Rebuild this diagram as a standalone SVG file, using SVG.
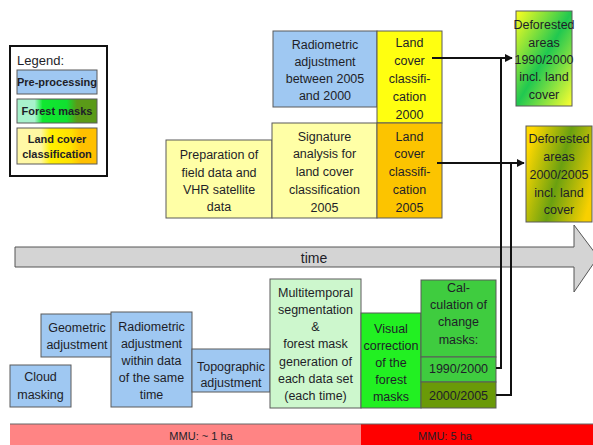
<svg xmlns="http://www.w3.org/2000/svg" width="593" height="445" viewBox="0 0 593 445">
  <defs>
    <style>
      text { font-family: "Liberation Sans", Arial, sans-serif; fill: #1e1e28; }
      .t { font-size: 12.5px; text-anchor: middle; }
      .lg { font-size: 11px; font-weight: bold; text-anchor: middle; }
      .box { stroke: #5a5a5a; stroke-width: 1; }
      .pre { fill: #9fc8f2; }
      .ly { fill: #ffffa6; }
      .lc0 { fill: #ffff10; }
      .lc5 { fill: #fcc400; }
      .mt { fill: #cdf7cd; }
      .vc { fill: #22f022; }
      .cm { fill: #3fcc3f; }
      .c05 { fill: #6a9a08; }
      .wire { fill: none; stroke: #111; stroke-width: 2; }
    </style>
    <linearGradient id="gDef1" x1="0" y1="0" x2="1" y2="1">
      <stop offset="0" stop-color="#ffff20"/>
      <stop offset="0.5" stop-color="#20c850"/>
      <stop offset="1" stop-color="#ffff30"/>
    </linearGradient>
    <linearGradient id="gDef2" x1="0" y1="0.3" x2="1" y2="0.7">
      <stop offset="0" stop-color="#ffd800"/>
      <stop offset="0.5" stop-color="#6aa010"/>
      <stop offset="1" stop-color="#f8d000"/>
    </linearGradient>
    <linearGradient id="gForest" x1="0" y1="0" x2="1" y2="0">
      <stop offset="0" stop-color="#a8f2cc"/>
      <stop offset="0.22" stop-color="#a8f2cc"/>
      <stop offset="0.32" stop-color="#10e830"/>
      <stop offset="0.62" stop-color="#10e030"/>
      <stop offset="0.75" stop-color="#5a9a18"/>
      <stop offset="1" stop-color="#5a9a18"/>
    </linearGradient>
    <linearGradient id="gLand" x1="0" y1="0" x2="1" y2="0">
      <stop offset="0" stop-color="#fff8a8"/>
      <stop offset="0.3" stop-color="#fff8a0"/>
      <stop offset="0.42" stop-color="#fff000"/>
      <stop offset="0.68" stop-color="#ffe000"/>
      <stop offset="0.8" stop-color="#ffc000"/>
      <stop offset="1" stop-color="#ffc000"/>
    </linearGradient>
    <marker id="arr" viewBox="0 0 10 10" refX="9" refY="5" markerWidth="4" markerHeight="4" orient="auto" markerUnits="strokeWidth">
      <path d="M0,0 L10,5 L0,10 z" fill="#111"/>
    </marker>
  </defs>

  <rect width="593" height="445" fill="#ffffff"/>

  <!-- legend -->
  <g id="legend">
    <rect x="10" y="46" width="97" height="130" fill="#ffffff" stroke="#111" stroke-width="2"/>
    <text x="17" y="65" style="font-size:13px">Legend:</text>
    <rect class="box pre" x="17" y="70" width="80" height="24"/>
    <text class="lg" x="57" y="86">Pre-processing</text>
    <rect class="box" x="17" y="99" width="80" height="24" fill="url(#gForest)"/>
    <text class="lg" x="57" y="115">Forest masks</text>
    <rect class="box" x="17" y="128" width="80" height="36" fill="url(#gLand)"/>
    <text class="lg" x="57" y="143">Land cover</text>
    <text class="lg" x="57" y="158">classification</text>
  </g>

  <!-- time axis -->
  <g id="time">
    <path d="M15,247 H574 V225 L598,257 L574,292 V267 H15 Z" fill="#d4d4d4" stroke="#555" stroke-width="1"/>
    <text x="314" y="263" style="font-size:14px; text-anchor:middle">time</text>
  </g>

  <!-- upper row: classification steps -->
  <g id="radiometric2005">
    <rect class="box pre" x="273" y="31" width="104" height="76"/>
    <text class="t" x="325" y="49">Radiometric</text>
    <text class="t" x="325" y="66">adjustment</text>
    <text class="t" x="325" y="83">between 2005</text>
    <text class="t" x="325" y="100">and 2000</text>
  </g>
  <g id="landcover2000">
    <rect class="box lc0" x="377" y="31" width="65" height="92"/>
    <text class="t" x="409.5" y="47">Land</text>
    <text class="t" x="409.5" y="65">cover</text>
    <text class="t" x="409.5" y="83">classifi-</text>
    <text class="t" x="409.5" y="101">cation</text>
    <text class="t" x="409.5" y="119">2000</text>
  </g>
  <g id="preparation">
    <rect class="box ly" x="166" y="140" width="106" height="78"/>
    <text class="t" x="219" y="159">Preparation of</text>
    <text class="t" x="219" y="177">field data and</text>
    <text class="t" x="219" y="194">VHR satellite</text>
    <text class="t" x="219" y="211">data</text>
  </g>
  <g id="signature">
    <rect class="box ly" x="272" y="123" width="105" height="95"/>
    <text class="t" x="324.5" y="141">Signature</text>
    <text class="t" x="324.5" y="158">analysis for</text>
    <text class="t" x="324.5" y="176">land cover</text>
    <text class="t" x="324.5" y="194">classification</text>
    <text class="t" x="324.5" y="212">2005</text>
  </g>
  <g id="landcover2005">
    <rect class="box lc5" x="377" y="123" width="65" height="95"/>
    <text class="t" x="409.5" y="141">Land</text>
    <text class="t" x="409.5" y="158">cover</text>
    <text class="t" x="409.5" y="176">classifi-</text>
    <text class="t" x="409.5" y="194">cation</text>
    <text class="t" x="409.5" y="212">2005</text>
  </g>

  <!-- results -->
  <g id="deforested1990">
    <rect class="box" x="516" y="11" width="56" height="95" fill="url(#gDef1)"/>
    <text class="t" x="544" y="29">Deforested</text>
    <text class="t" x="544" y="47">areas</text>
    <text class="t" x="544" y="64">1990/2000</text>
    <text class="t" x="544" y="81">incl. land</text>
    <text class="t" x="544" y="99">cover</text>
  </g>
  <g id="deforested2000">
    <rect class="box" x="526" y="126" width="66" height="96" fill="url(#gDef2)"/>
    <text class="t" x="559" y="143">Deforested</text>
    <text class="t" x="559" y="161">areas</text>
    <text class="t" x="559" y="179">2000/2005</text>
    <text class="t" x="559" y="197">incl. land</text>
    <text class="t" x="559" y="214">cover</text>
  </g>

  <!-- lower row: pre-processing and forest masks -->
  <g id="cloud">
    <rect class="box pre" x="10" y="365" width="61" height="42"/>
    <text class="t" x="40.5" y="381">Cloud</text>
    <text class="t" x="40.5" y="399">masking</text>
  </g>
  <g id="geometric">
    <rect class="box pre" x="41" y="314" width="71" height="43"/>
    <text class="t" x="77" y="332">Geometric</text>
    <text class="t" x="77" y="349">adjustment</text>
  </g>
  <g id="radiometricSame">
    <rect class="box pre" x="111" y="312" width="81" height="95"/>
    <text class="t" x="151.5" y="331">Radiometric</text>
    <text class="t" x="151.5" y="348">adjustment</text>
    <text class="t" x="151.5" y="365">within data</text>
    <text class="t" x="151.5" y="382">of the same</text>
    <text class="t" x="151.5" y="399">time</text>
  </g>
  <g id="topographic">
    <rect class="box pre" x="192" y="349" width="78" height="43"/>
    <text class="t" x="231" y="371">Topographic</text>
    <text class="t" x="231" y="387">adjustment</text>
  </g>
  <g id="multitemporal">
    <rect class="box mt" x="270" y="279" width="91" height="129"/>
    <text class="t" x="315.5" y="297">Multitemporal</text>
    <text class="t" x="315.5" y="314">segmentation</text>
    <text class="t" x="315.5" y="331">&amp;</text>
    <text class="t" x="315.5" y="348">forest mask</text>
    <text class="t" x="315.5" y="366">generation of</text>
    <text class="t" x="315.5" y="383">each data set</text>
    <text class="t" x="315.5" y="400">(each time)</text>
  </g>
  <g id="visual">
    <rect class="box vc" x="361" y="313" width="60" height="95"/>
    <text class="t" x="391" y="333">Visual</text>
    <text class="t" x="391" y="350">correction</text>
    <text class="t" x="391" y="367">of the</text>
    <text class="t" x="391" y="384">forest</text>
    <text class="t" x="391" y="401">masks</text>
  </g>
  <g id="changeMasks">
    <rect class="box cm" x="421" y="280" width="75" height="77"/>
    <text class="t" x="458.5" y="292">Cal-</text>
    <text class="t" x="458.5" y="309">culation of</text>
    <text class="t" x="458.5" y="326">change</text>
    <text class="t" x="458.5" y="344">masks:</text>
  </g>
  <g id="change1990">
    <rect class="box cm" x="421" y="357" width="75" height="25"/>
    <text class="t" x="458.5" y="373">1990/2000</text>
  </g>
  <g id="change2000">
    <rect class="box c05" x="421" y="382" width="75" height="26"/>
    <text class="t" x="458.5" y="400">2000/2005</text>
  </g>

  <!-- minimum mapping unit bars -->
  <g id="mmu">
    <rect x="10" y="424" width="351" height="21" fill="#ff8484"/>
    <rect x="361" y="424" width="232" height="21" fill="#ff0000"/>
    <line x1="10" y1="424" x2="593" y2="424" stroke="#666" stroke-width="1"/>
    <text x="201" y="440" style="font-size:11px; text-anchor:middle">MMU: ~ 1 ha</text>
    <text x="445" y="440" style="font-size:11px; text-anchor:middle">MMU: 5 ha</text>
  </g>

  <!-- connectors -->
  <g id="connectors">
    <path class="wire" d="M432,58 H512" marker-end="url(#arr)"/>
    <path class="wire" d="M496,368 H501 V58"/>
    <path class="wire" d="M437,163 H524" marker-end="url(#arr)"/>
    <path class="wire" d="M496,395 H511 V163"/>
  </g>
</svg>
